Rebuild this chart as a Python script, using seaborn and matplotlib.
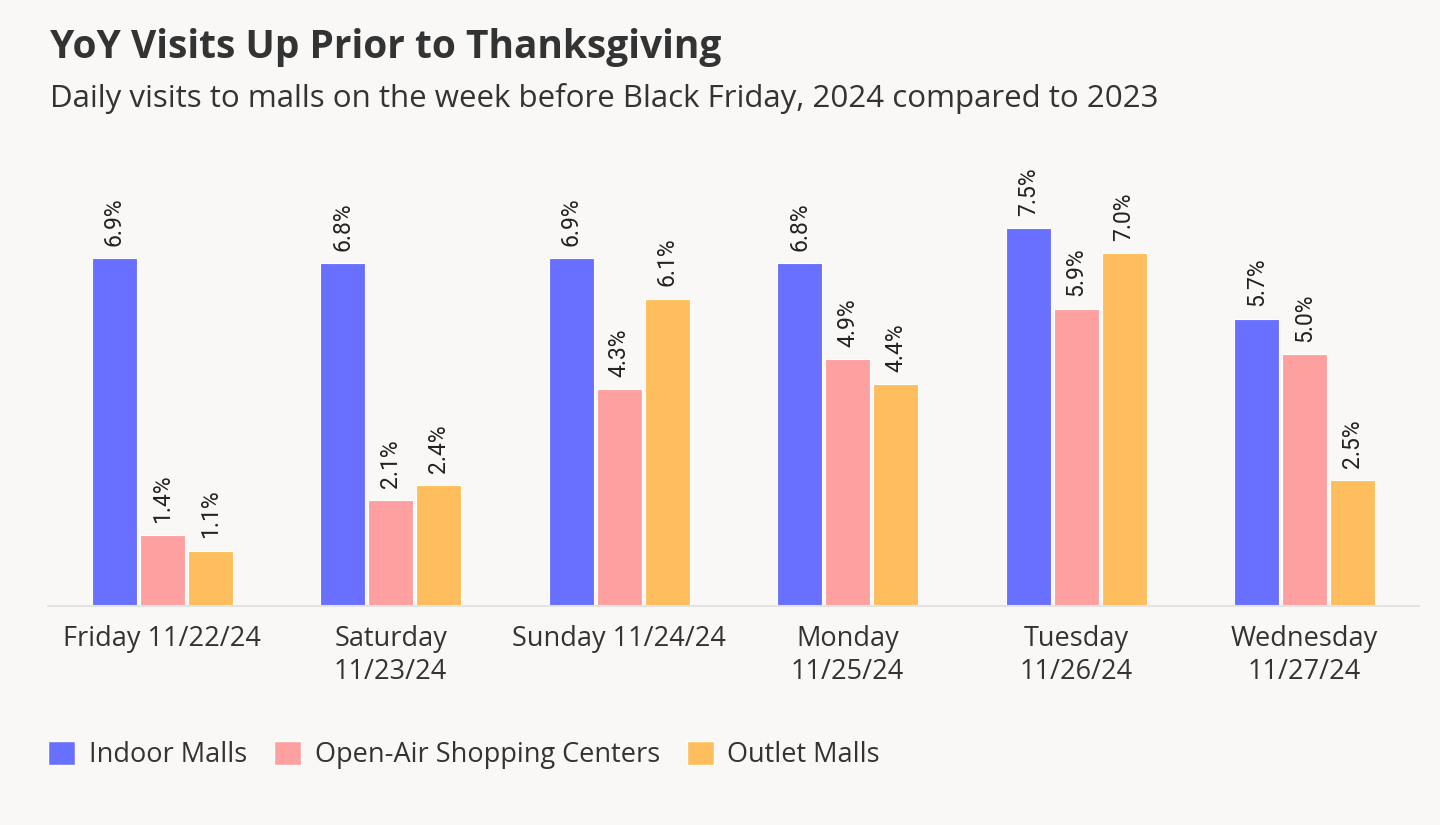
import matplotlib
matplotlib.use("Agg")
import matplotlib.pyplot as plt
import matplotlib.patches as mpatches
import pandas as pd
import seaborn as sns

days = ["Friday 11/22/24", "Saturday\n11/23/24", "Sunday 11/24/24",
        "Monday\n11/25/24", "Tuesday\n11/26/24", "Wednesday\n11/27/24"]
series = ["Indoor Malls", "Open-Air Shopping Centers", "Outlet Malls"]
indoor = [6.9, 6.8, 6.9, 6.8, 7.5, 5.7]
open_air = [1.4, 2.1, 4.3, 4.9, 5.9, 5.0]
outlet = [1.1, 2.4, 6.1, 4.4, 7.0, 2.5]
colors = ["#6970FF", "#FFA0A0", "#FFBE5E"]

df = pd.DataFrame({
    "day": days * 3,
    "type": [s for s in series for _ in days],
    "value": indoor + open_air + outlet,
})

bg = "#F9F8F7"
sns.set_theme(style="white")
plt.rcParams["font.family"] = ["Open Sans", "DejaVu Sans"]

fig = plt.figure(figsize=(14.4, 8.25), dpi=100, facecolor=bg)
ax = fig.add_axes([0.0333, 0.2655, 0.952, 0.5525])
ax.set_facecolor(bg)

sns.barplot(data=df, x="day", y="value", hue="type", order=days,
            hue_order=series, palette=colors, width=0.63, gap=0.06,
            edgecolor="white", linewidth=0.8, saturation=1, ax=ax, legend=False)

for cont in ax.containers:
    ax.bar_label(cont, labels=[f"{v:.1f}%" for v in cont.datavalues],
                 rotation=90, padding=9, fontsize=16.5, color="#222222",
                 family=["Roboto", "DejaVu Sans"])

ax.set_xlim(-0.5, 5.5)
ax.set_ylim(0, 9.05)
ax.axhline(0, color="#E3E3E3", lw=1.5, clip_on=False)
ax.set_yticks([])
ax.set_xlabel("")
ax.set_ylabel("")
ax.tick_params(axis="x", length=0, pad=14, labelsize=19.5, labelcolor="#333333")
sns.despine(ax=ax, left=True, bottom=True)

fig.text(0.035, 0.943, "YoY Visits Up Prior to Thanksgiving", fontsize=28,
         fontweight="bold", color="#333333", va="center", ha="left")
fig.text(0.035, 0.881, "Daily visits to malls on the week before Black Friday, 2024 compared to 2023",
         fontsize=22.5, color="#333333", va="center", ha="left")

handles = [mpatches.Patch(facecolor=c, edgecolor="white", label=s) for c, s in zip(colors, series)]
fig.legend(handles=handles, loc="center left", bbox_to_anchor=(0.0333, 0.085), ncol=3,
           frameon=False, fontsize=19.5, handlelength=1.0, handleheight=1.0,
           handletextpad=0.5, columnspacing=1.0, labelcolor="#333333",
           borderpad=0, borderaxespad=0)

fig.savefig("out.png", dpi=100, facecolor=bg)
